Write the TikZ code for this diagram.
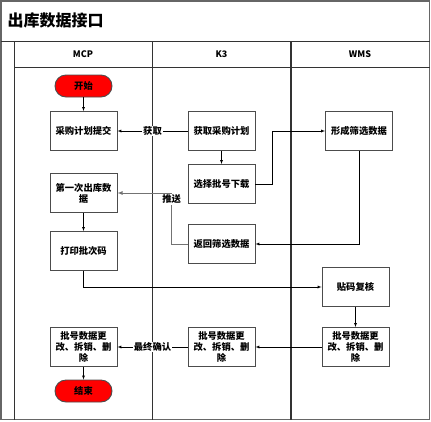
\documentclass[tikz,border=0pt]{standalone}
\usepackage{fontspec}
\setmainfont{Noto Sans CJK SC}
\usetikzlibrary{positioning}

\begin{document}
\begin{tikzpicture}[x=1pt,y=-1pt,>=latex,
  box/.style={draw=black!70, line width=0.9pt, minimum width=67pt, minimum height=39pt,
    inner sep=1pt, align=center, font=\fontsize{9.3}{11}\selectfont\bfseries},
  term/.style={draw=black!70, line width=0.9pt, fill=red, rounded corners=11pt,
    minimum width=57pt, minimum height=22pt, font=\fontsize{9.3}{11}\selectfont\bfseries},
  lbl/.style={fill=white, inner sep=1pt, font=\fontsize{9.3}{11}\selectfont\bfseries},
  lane/.style={font=\fontsize{9}{11}\selectfont\bfseries}]
  \useasboundingbox (0,0) rectangle (431,421);

  % Frame and lanes
  \draw[black!60, line width=1.5pt] (1,1) rectangle (429.5,419.5);
  \draw[black!80, line width=0.8pt] (1,41) -- (429.5,41);
  \draw[black!80, line width=0.8pt] (14,67) -- (429.5,67);
  \draw[black!80, line width=0.8pt] (14,41) -- (14,419.5);
  \draw[black!80, line width=0.8pt] (152,41) -- (152,419.5);
  \draw[black!80, line width=1.2pt] (291,41) -- (291,419.5);
  \node[anchor=west, font=\fontsize{16}{19}\selectfont\bfseries] (Title) at (4,20) {出库数据接口};
  \node[lane] (MCP) at (83,54) {MCP};
  \node[lane] (K3) at (221.5,54) {K3};
  \node[lane] (WMS) at (360,54) {WMS};

  % Flow nodes
  \node[term] (Start) at (83.5,86) {开始};
  \node[box] (Submit) at (83.5,131) {采购计划提交};
  \node[box] (Fetch) at (221.5,131) {获取采购计划};
  \node[box] (Form) at (359,131) {形成筛选数据};
  \node[box] (Select) at (221.5,184) {选择批号下载};
  \node[box] (First) at (83.5,193) {第一次出库数\\据};
  \node[box] (Return) at (221.5,244) {返回筛选数据};
  \node[box] (Print) at (83.5,251) {打印批次码};
  \node[box] (Check) at (355.5,287) {贴码复核};
  \node[box] (EditW) at (355.5,347) {批号数据更\\改、拆销、删\\除};
  \node[box] (EditK) at (221.5,347) {批号数据更\\改、拆销、删\\除};
  \node[box] (EditM) at (83.5,347) {批号数据更\\改、拆销、删\\除};
  \node[term] (End) at (83.5,391) {结束};

  % Connectors
  \draw[->] (Start) -- (Submit);
  \draw[->] (Fetch) -- (Submit) node[lbl, midway] {获取};
  \draw[->] (Fetch) -- (Select);
  \draw[->] (Select.east) -- ++(17,0) |- (Form.west);
  \draw[->] (Form.south) |- (Return.east);
  \draw[->, black!55, line width=0.8pt] (Return.west) -- ++(-16,0) |- (First.east) node[lbl, text=black, pos=0.44] {推送};
  \draw[->] (First) -- (Print);
  \draw[->] (Print.south) |- (Check.west);
  \draw[->] (Check) -- (EditW);
  \draw[->] (EditW) -- (EditK);
  \draw[->] (EditK) -- (EditM) node[lbl, midway] {最终确认};
  \draw[->] (EditM) -- (End);
\end{tikzpicture}
\end{document}
